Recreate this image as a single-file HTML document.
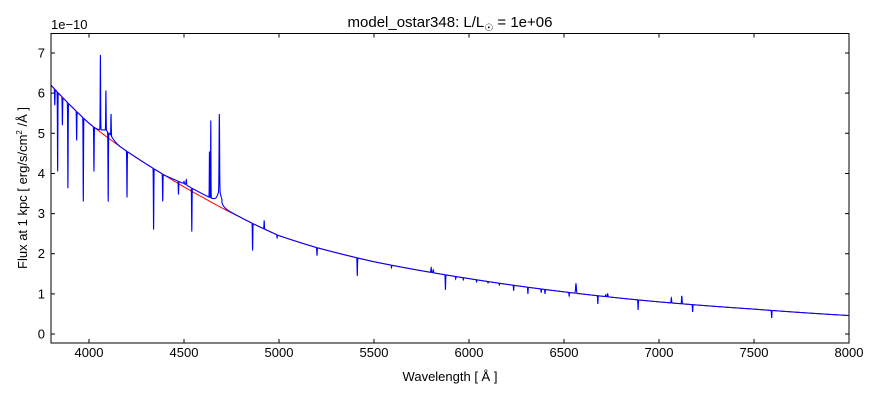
<!DOCTYPE html>
<html><head><meta charset="utf-8"><style>
body{margin:0;background:#fff;width:880px;height:400px;overflow:hidden}
svg{font-family:"Liberation Sans","DejaVu Sans",sans-serif}
</style></head><body>
<svg id="s" width="880" height="400" xmlns="http://www.w3.org/2000/svg">
<rect width="880" height="400" fill="#fff"/>
<text x="450" y="27" font-size="15" text-anchor="middle">model_ostar348: L/L<tspan font-size="10" dy="4">☉</tspan><tspan dy="-4"> = 1e+06</tspan></text>
<text x="51" y="29" font-size="13">1e−10</text>
<g id="ticks" stroke="#000" stroke-width="1"></g>
<g font-size="13" text-anchor="middle" id="xl"></g>
<g font-size="13" text-anchor="end" id="yl"></g>
<text x="450" y="381" font-size="13" text-anchor="middle">Wavelength [ Å ]</text>
<text transform="translate(27,188) rotate(-90)" font-size="13" text-anchor="middle">Flux at 1 kpc [ erg/s/cm<tspan font-size="8" dy="-5">2</tspan><tspan dy="5"> /Å ]</tspan></text>
<clipPath id="c"><rect x="51" y="33" width="798" height="310"/></clipPath>
<g clip-path="url(#c)">
<path id="red" fill="none" stroke="#f00" stroke-width="1"/>
<path id="blue" fill="none" stroke="#00f" stroke-width="1.1"/>
</g>
<rect x="51" y="33.5" width="798" height="309.5" fill="none" stroke="#000" stroke-width="1"/>
</svg>
<script>
var X=function(l){return 51+(l-3800)*0.19},Y=function(f){return 334-f*40.14};
var T=[[3800,6.2],[4000,5.25],[4200,4.55],[4400,3.95],[4600,3.4],[4800,2.9],[5000,2.45],[5200,2.15],[5500,1.8],[6000,1.38],[6500,1.05],[7000,0.8],[7500,0.62],[8000,0.46]];
function C(l){for(var i=0;i<T.length-1;i++){if(l<=T[i+1][0]){var t=(l-T[i][0])/(T[i+1][0]-T[i][0]);return Math.exp(Math.log(T[i][1])*(1-t)+Math.log(T[i+1][1])*t);}}return T[T.length-1][1];}
var L=[[3820,5.7,1.5],[3835,4.05,1.5],[3860,5.2,1.5],[3889,3.63,1.5],[3935,4.82,1.5],[3970,3.3,1.5],[4026,4.05,1.5],[4060,6.9,1.5],[4089,5.92,1.5],[4101,3.15,1.5],[4116,5.38,1.5],[4200,3.4,1.5],[4340,2.6,1.5],[4388,3.3,1.5],[4471,3.42,1.5],[4500,3.72,2],[4512,3.76,2],[4541,2.47,1.5],[4634,4.45,1.2],[4641,5.22,1.2],[4686,5.1,2],[4861,2.08,1.5],[4922,2.83,1.5],[5200,1.95,1.5],[5412,1.45,1.5],[5801,1.65,2],[5812,1.6,2],[5876,1.1,1.5],[6563,1.25,3],[6678,0.75,1.5],[6720,0.98,2],[6730,1.0,2],[6890,0.6,1.5],[7065,0.9,2],[7120,0.95,2],[7177,0.55,1.5],[7593,0.4,1.5],[6310,1.0,1.5],[6400,1.0,1.5],[6235,1.08,1.5],[5592,1.65,1.5],[4990,2.4,1.5],[6040,1.3,1.5],[6100,1.27,1.5],[6160,1.22,1.5],[5930,1.37,1.5],[5970,1.35,1.5],[6527,0.95,1.5],[6380,1.03,1.5]];
function B(l){var c=C(l),f=c;
 if(l>4030&&l<4160)f+=0.15*Math.exp(-Math.pow((l-4095)/35,2));
 if(l>4400&&l<4800){f+=0.08*Math.min(1,(l-4400)/100)*(l<4700?1:0);
  f+=0.3/(1+Math.pow((l-4686)/12,2));}
 for(var i=0;i<L.length;i++){var d=(l-L[i][0])/L[i][2];if(Math.abs(d)<4)f+=(L[i][1]-c)*Math.exp(-d*d);}
 return f;}
var r="",b="";for(var l=3800;l<=8000;l+=0.5){r+=(l==3800?"M":"L")+X(l).toFixed(2)+","+Y(C(l)).toFixed(2);b+=(l==3800?"M":"L")+X(l).toFixed(2)+","+Y(B(l)).toFixed(2);}
document.getElementById("red").setAttribute("d",r);document.getElementById("blue").setAttribute("d",b);
var tk="",xl="",yl="";
for(var v=4000;v<=8000;v+=500){var x=X(v);tk+="M"+x+",343V339M"+x+",33.5V37.5";xl+='<text x="'+x+'" y="357">'+v+'</text>';}
for(var k=0;k<=7;k++){var y=Y(k);tk+="M51,"+y+"H55M849,"+y+"H845";yl+='<text x="45" y="'+(y+4.5)+'">'+k+'</text>';}
var p=document.createElementNS("http://www.w3.org/2000/svg","path");p.setAttribute("d",tk);document.getElementById("ticks").appendChild(p);
document.getElementById("xl").innerHTML=xl;document.getElementById("yl").innerHTML=yl;
</script>
</body></html>
